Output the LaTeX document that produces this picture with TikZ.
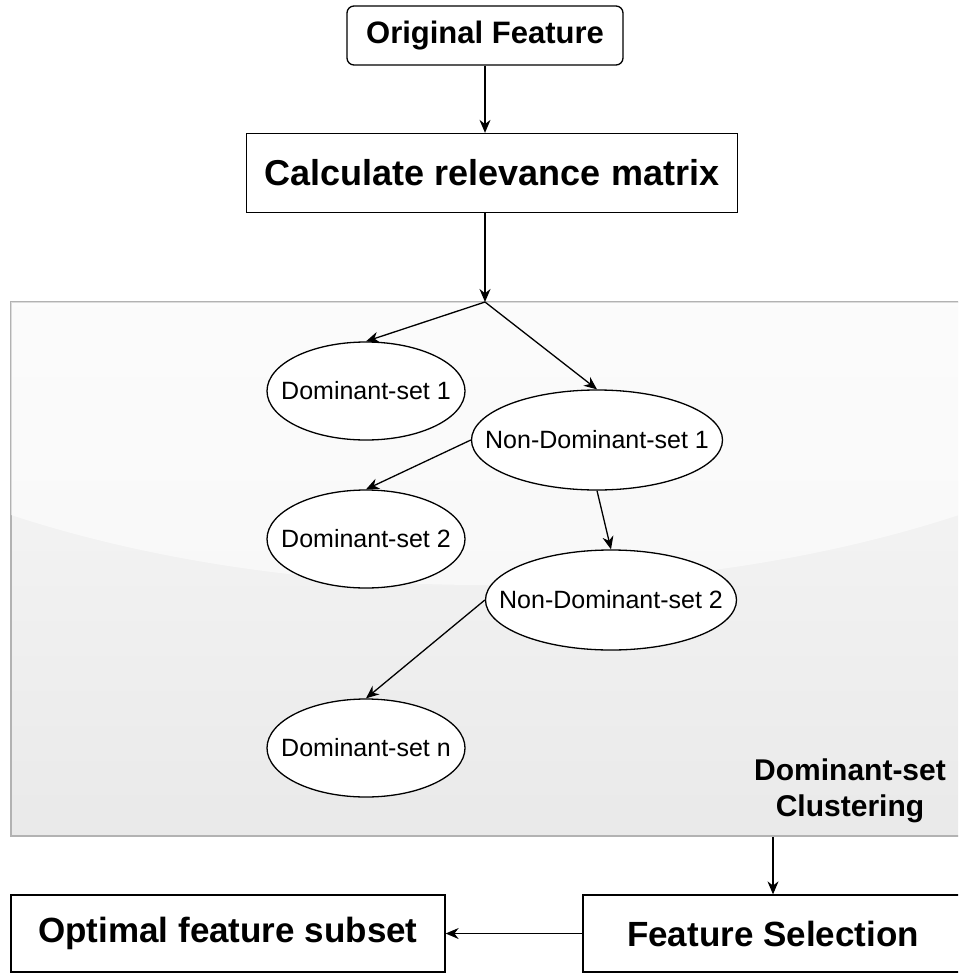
\documentclass[tikz,border=0pt]{standalone}
\usepackage{fontspec}
\setmainfont{Liberation Sans}
\usetikzlibrary{arrows.meta,shapes.geometric}

\begin{document}
\begin{tikzpicture}[x=1pt,y=-1pt,line width=1.3pt,
		>={Stealth[length=13pt,width=11pt]},
		box/.style={draw,rectangle,fill=white,inner sep=0pt},
		set/.style={draw,ellipse,fill=white,inner xsep=-30pt,inner ysep=0pt,font=\fontsize{25}{30}\selectfont}]
			\useasboundingbox (0,0) rectangle (958,974);
			\clip (0,0) rectangle (958,974);

			\node[box,rounded corners=7pt,minimum width=276,minimum height=59,font=\fontsize{31}{36}\selectfont\bfseries] (orig) at (485, 35.5) {Original Feature};
			\node[box,minimum width=491,minimum height=79,font=\fontsize{36}{40}\selectfont\bfseries] (calc) at (492, 173) {Calculate relevance matrix};

			% clustering panel
			\node[draw=gray!60,line width=1.5pt,top color=gray!5,bottom color=gray!17,minimum width=954,minimum height=534,inner sep=0pt] (clus) at (488, 569) {};
			\begin{scope}
				\clip (11,302) rectangle (965,836);
				\fill[white,opacity=0.55] (485,200) ellipse (824 and 385);
			\end{scope}
			\coordinate (split) at (485, 302);

			\node[set,minimum width=198,minimum height=98] (d1) at (366, 391) {Dominant-set 1};
			\node[set,minimum width=251,minimum height=100] (nd1) at (597, 440) {Non-Dominant-set 1};
			\node[set,minimum width=198,minimum height=98] (d2) at (366, 539) {Dominant-set 2};
			\node[set,minimum width=251,minimum height=100] (nd2) at (611, 600) {Non-Dominant-set 2};
			\node[set,minimum width=198,minimum height=98] (dn) at (366, 748) {Dominant-set n};
			\node[align=center,font=\fontsize{30}{36}\selectfont\bfseries] (lbl) at (850, 791) {Dominant-set\\Clustering};

			\node[box,minimum width=380,minimum height=77,font=\fontsize{35}{40}\selectfont\bfseries] (fsel) at (773, 933.5) {Feature Selection};
			\node[box,minimum width=434,minimum height=77,font=\fontsize{35}{40}\selectfont\bfseries] (opt) at (228, 933.5) {Optimal feature subset};

			\draw[->] (orig) to (orig |- calc.north);
			\draw[->] (calc.south -| split) to (split);
			\draw[->] (split) to (d1.north);
			\draw[->] (split) to (nd1.north);
			\draw[->] (nd1.west) to (d2.north);
			\draw[->] (nd1.south) to (nd2.north);
			\draw[->] (nd2.west) to (dn.north);
			\draw[->] (clus.south -| fsel) to (fsel);
			\draw[->] (fsel) to (opt);
		\end{tikzpicture}
\end{document}
